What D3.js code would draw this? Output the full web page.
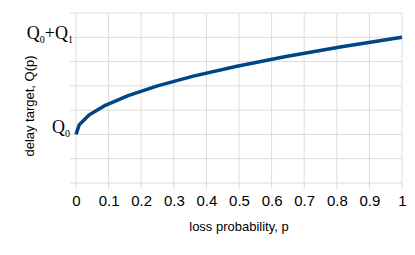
<!DOCTYPE html>
<meta charset="utf-8">
<style>
body { margin: 0; background: #fff; }
.tick text { font: 15px "Liberation Sans", Arial, sans-serif; fill: #000; }
.title { font: 13px "Liberation Sans", Arial, sans-serif; fill: #000; }
.qlab { font-family: "Liberation Serif", "Times New Roman", serif; fill: #000; }
</style>
<svg width="415" height="255"></svg>
<script src="https://d3js.org/d3.v7.min.js"></script>
<script>

// loss probability p, and the delay target in units of Q1 above Q0
var lossP = [0, 0.01, 0.04, 0.09, 0.16, 0.25, 0.36, 0.49, 0.64, 0.81, 1.0];
var delayQ = [0, 0.1, 0.2, 0.3, 0.4, 0.5, 0.6, 0.7, 0.8, 0.9, 1.0];
var xTicks = [0, 0.1, 0.2, 0.3, 0.4, 0.5, 0.6, 0.7, 0.8, 0.9, 1];
var yGrid = [-0.5, -0.25, 0, 0.25, 0.5, 0.75, 1, 1.25];

var svg = d3.select("svg"),
    mLeft = 76, mRight = 402, mTop = 13, mBottom = 183;

var x = d3.scaleLinear().domain([0, 1]).range([mLeft, mRight]);
var y = d3.scaleLinear().domain([-0.5, 1.25]).range([mBottom, mTop]);

// grid + ticks
var grid = svg.append("g");
grid.selectAll(".h").data(yGrid).enter().append("line")
    .attr("x1", mLeft - 6).attr("x2", mRight)
    .attr("y1", function(d) { return y(d); }).attr("y2", function(d) { return y(d); })
    .attr("stroke", "#dcdcdc").attr("stroke-width", 1);
grid.selectAll(".v").data(xTicks).enter().append("line")
    .attr("x1", function(d) { return x(d); }).attr("x2", function(d) { return x(d); })
    .attr("y1", mTop).attr("y2", mBottom + 6)
    .attr("stroke", "#dcdcdc").attr("stroke-width", 1);

var xAxis = svg.append("g")
    .attr("transform", "translate(0," + mBottom + ")")
    .call(d3.axisBottom(x).tickValues(xTicks).tickSize(0).tickPadding(12)
      .tickFormat(function(d) { return d3.format("")(d); }));
xAxis.select(".domain").remove();

// Q labels
var q0 = svg.append("text").attr("class", "qlab")
    .attr("x", 70).attr("y", y(0) - 1).attr("text-anchor", "end").style("font-size", "18px");
q0.append("tspan").text("Q");
q0.append("tspan").attr("dy", 4).style("font-size", "10px").text("0");

var q1 = svg.append("text").attr("class", "qlab")
    .attr("x", 73).attr("y", y(1) + 2).attr("text-anchor", "end").style("font-size", "18px");
q1.append("tspan").text("Q");
q1.append("tspan").attr("dy", 4).style("font-size", "10px").text("0");
q1.append("tspan").attr("dy", -4).text("+Q");
q1.append("tspan").attr("dy", 4).style("font-size", "10px").text("1");

// curve
var line = d3.line()
    .x(function(d, i) { return x(lossP[i]); })
    .y(function(d) { return y(d); });

svg.append("path")
    .datum(delayQ)
    .attr("fill", "none")
    .attr("stroke", "#004586")
    .attr("stroke-width", 3.5)
    .attr("stroke-linejoin", "round")
    .attr("d", line);

// titles
svg.append("text").attr("class", "title")
    .attr("x", (mLeft + mRight) / 2).attr("y", 231).attr("text-anchor", "middle")
    .text("loss probability, p");

svg.append("text").attr("class", "title")
    .attr("transform", "translate(34,106) rotate(-90)")
    .attr("text-anchor", "middle")
    .text("delay target, Q(p)");

</script>
